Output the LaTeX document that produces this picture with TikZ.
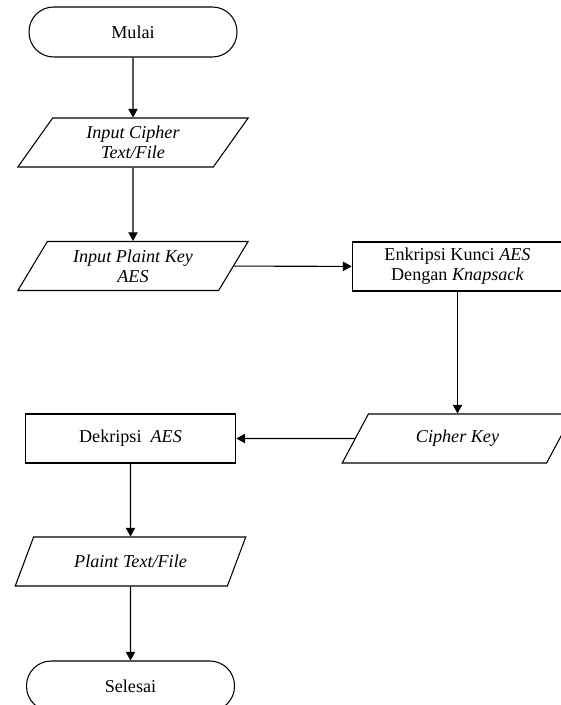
\documentclass[tikz,border=0pt]{standalone}
\usepackage{fontspec}
\setmainfont{Liberation Serif}
\usetikzlibrary{shapes.geometric,arrows.meta,positioning}
\begin{document}
\begin{tikzpicture}[x=.75pt,y=-.75pt,line width=.8pt,
		font=\fontsize{13.6}{15}\selectfont,
		>={Triangle[length=6.5pt,width=7pt]},
		terminal/.style={draw,align=center,rounded corners=18.5pt,minimum width=156pt,minimum height=37.5pt},
		data/.style={draw,align=center,trapezium,trapezium left angle=62,trapezium right angle=118,trapezium stretches=true,minimum width=173pt,minimum height=36.75pt},
		proses/.style={draw,align=center,minimum width=158pt,minimum height=36.75pt}]
		\useasboundingbox (0,0) rectangle (560,705);%ukuran gambar
		\node[terminal] (mulai) at (133,32) {Mulai};
		\node[data] (cipher) at (133,142.5) {\textit{Input Cipher}\\\textit{Text/File}};
		\node[data] (kunci) at (133,266) {\textit{Input Plaint Key}\\\textit{AES}};
		\node[proses] (enkripsi) at (457.5,266.5) {Enkripsi Kunci \textit{AES}\\Dengan \textit{Knapsack}};
		\node[data] (cipherkey) at (457.5,438.5) {\textit{Cipher Key}};
		\node[proses] (dekripsi) at (130.5,438.5) {Dekripsi~ \textit{AES}};
		\node[data] (plaint) at (130.5,561.5) {\textit{Plaint Text/File}};
		\node[terminal] (selesai) at (130.5,686) {Selesai};
		%alur
		\draw[->] (mulai)--(cipher);
		\draw[->] (cipher)--(kunci);
		\draw[->] (kunci)--(enkripsi);
		\draw[->] (enkripsi)--(cipherkey);
		\draw[->] (cipherkey)--(dekripsi);
		\draw[->] (dekripsi)--(plaint);
		\draw[->] (plaint)--(selesai);
	\end{tikzpicture}
\end{document}
